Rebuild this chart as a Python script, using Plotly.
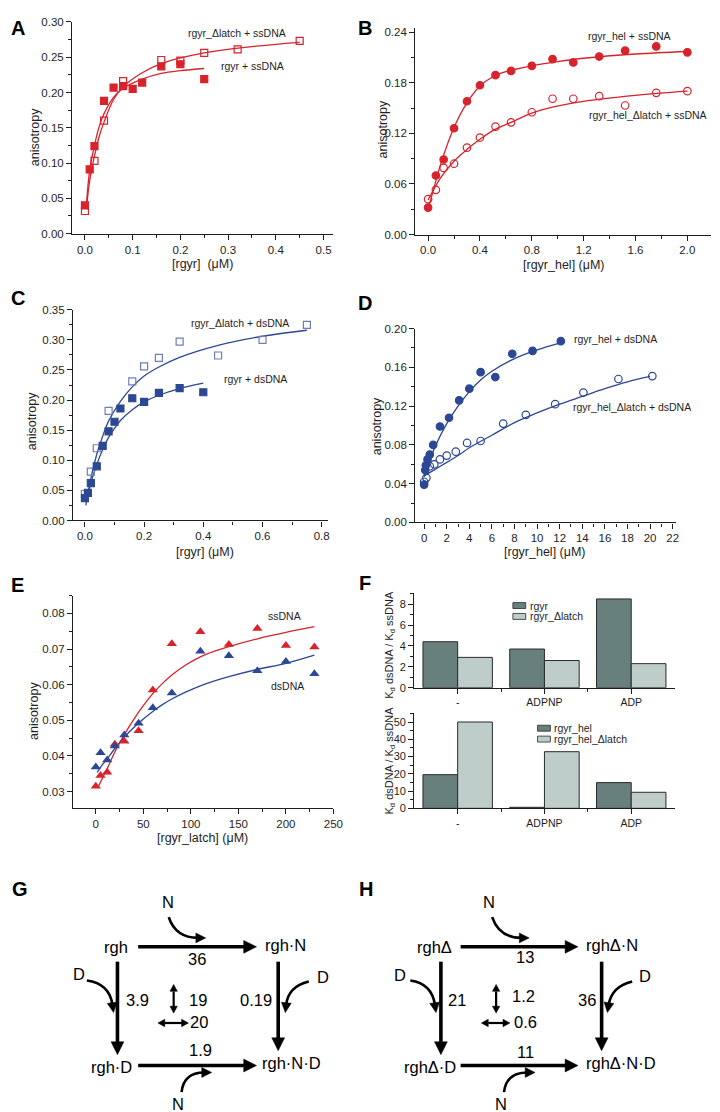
import math
import plotly.graph_objects as go

W, H = 720, 1112
FONT = 'Liberation Sans, Arial, sans-serif'
RED = '#d8222c'
BLUE = '#2c4794'
DARK = '#1e1e1e'
BAR_DARK = '#67807e'
BAR_LIGHT = '#becdca'

# ---------------- data ----------------
# Panel A (ssDNA, rgyr vs rgyr_dlatch)
a_rgyr_x = [0, 0.01, 0.02, 0.04, 0.06, 0.08, 0.10, 0.12, 0.16, 0.20, 0.25]
a_rgyr_y = [0.040, 0.091, 0.124, 0.188, 0.207, 0.209, 0.205, 0.214, 0.237, 0.240, 0.219]
a_dl_x = [0, 0.02, 0.04, 0.08, 0.16, 0.20, 0.25, 0.32, 0.45]
a_dl_y = [0.032, 0.103, 0.160, 0.216, 0.246, 0.245, 0.256, 0.261, 0.273]
a_fit_rgyr_x = [0.003, 0.01, 0.02, 0.03, 0.04, 0.06, 0.08, 0.12, 0.16, 0.20, 0.25]
a_fit_rgyr_y = [0.040, 0.090, 0.125, 0.152, 0.170, 0.193, 0.206, 0.219, 0.227, 0.231, 0.234]
a_fit_dl_x = [0.003, 0.01, 0.02, 0.03, 0.04, 0.06, 0.08, 0.12, 0.16, 0.25, 0.35, 0.45]
a_fit_dl_y = [0.035, 0.075, 0.110, 0.138, 0.158, 0.190, 0.208, 0.228, 0.241, 0.256, 0.265, 0.271]

# Panel B (ssDNA, rgyr_hel vs rgyr_hel_dlatch)
b_hel_x = [0, 0.06, 0.12, 0.20, 0.30, 0.40, 0.52, 0.64, 0.80, 0.96, 1.12, 1.32, 1.52, 1.76, 2.0]
b_hel_y = [0.032, 0.070, 0.089, 0.126, 0.158, 0.177, 0.189, 0.194, 0.200, 0.208, 0.204, 0.211, 0.218, 0.223, 0.216]
b_dl_x = [0, 0.06, 0.12, 0.20, 0.30, 0.40, 0.52, 0.64, 0.80, 0.96, 1.12, 1.32, 1.52, 1.76, 2.0]
b_dl_y = [0.042, 0.053, 0.079, 0.084, 0.103, 0.115, 0.128, 0.133, 0.145, 0.161, 0.161, 0.164, 0.153, 0.168, 0.170]
b_fit_hel_x = [0, 0.05, 0.1, 0.2, 0.3, 0.4, 0.5, 0.6, 0.8, 1.0, 1.2, 1.6, 2.0]
b_fit_hel_y = [0.030, 0.058, 0.085, 0.127, 0.156, 0.176, 0.187, 0.193, 0.200, 0.205, 0.209, 0.214, 0.217]
b_fit_dl_x = [0, 0.1, 0.2, 0.3, 0.4, 0.52, 0.64, 0.8, 0.96, 1.2, 1.6, 2.0]
b_fit_dl_y = [0.041, 0.068, 0.087, 0.101, 0.113, 0.125, 0.133, 0.144, 0.151, 0.158, 0.165, 0.170]

# Panel C (dsDNA, rgyr vs rgyr_dlatch)
c_dl_x = [0, 0.02, 0.04, 0.08, 0.16, 0.20, 0.25, 0.32, 0.45, 0.60, 0.75]
c_dl_y = [0.044, 0.081, 0.120, 0.182, 0.231, 0.256, 0.270, 0.297, 0.274, 0.300, 0.325]
c_rgyr_x = [0, 0.01, 0.02, 0.04, 0.06, 0.08, 0.10, 0.12, 0.16, 0.20, 0.25, 0.32, 0.40]
c_rgyr_y = [0.037, 0.046, 0.062, 0.090, 0.124, 0.148, 0.164, 0.186, 0.203, 0.197, 0.212, 0.220, 0.213]
c_fit_dl_x = [0.003, 0.02, 0.04, 0.06, 0.08, 0.12, 0.16, 0.20, 0.25, 0.32, 0.45, 0.60, 0.75]
c_fit_dl_y = [0.025, 0.070, 0.110, 0.140, 0.165, 0.198, 0.222, 0.240, 0.255, 0.271, 0.291, 0.306, 0.316]
c_fit_rgyr_x = [0.005, 0.02, 0.04, 0.06, 0.08, 0.10, 0.12, 0.16, 0.20, 0.25, 0.32, 0.40]
c_fit_rgyr_y = [0.030, 0.062, 0.093, 0.118, 0.138, 0.153, 0.166, 0.184, 0.197, 0.208, 0.219, 0.228]

# Panel D (dsDNA, rgyr_hel vs rgyr_hel_dlatch)
d_hel_x = [0, 0.1, 0.15, 0.3, 0.5, 0.8, 1.4, 2.2, 3.1, 4.0, 5.0, 6.3, 7.8, 9.6, 12.1]
d_hel_y = [0.039, 0.054, 0.059, 0.065, 0.070, 0.080, 0.099, 0.108, 0.126, 0.138, 0.155, 0.150, 0.174, 0.177, 0.187]
d_dl_x = [0, 0.2, 0.5, 0.9, 1.4, 2.0, 2.8, 3.8, 5.0, 7.0, 9.0, 11.6, 14.1, 17.2, 20.2]
d_dl_y = [0.042, 0.046, 0.058, 0.060, 0.065, 0.069, 0.073, 0.082, 0.084, 0.102, 0.111, 0.122, 0.134, 0.148, 0.151]
d_fit_hel_x = [0, 0.5, 1, 2, 3, 4, 5, 6, 8, 10, 12]
d_fit_hel_y = [0.047, 0.064, 0.079, 0.102, 0.120, 0.135, 0.147, 0.156, 0.169, 0.178, 0.185]
d_fit_dl_x = [0, 1, 2, 3, 4, 6, 8, 10, 12, 14, 16, 18, 20]
d_fit_dl_y = [0.048, 0.055, 0.062, 0.069, 0.077, 0.090, 0.103, 0.113, 0.122, 0.130, 0.138, 0.145, 0.1506]

# Panel E (rgyr_latch binding)
e_x = [0, 5, 12, 20, 30, 45, 60, 80, 110, 140, 170, 200, 230]
e_ss_y = [0.0315, 0.0345, 0.0354, 0.0433, 0.0441, 0.0471, 0.0585, 0.0715, 0.0749, 0.0713, 0.0758, 0.0710, 0.0706]
e_ds_y = [0.0369, 0.0409, 0.0389, 0.0428, 0.0459, 0.0492, 0.0535, 0.0577, 0.0694, 0.0681, 0.0639, 0.0665, 0.0631]
e_fit_ss_x = [3, 8, 12, 20, 30, 40, 50, 60, 70, 80, 95, 110, 125, 140, 170, 200, 230]
e_fit_ss_y = [0.0316, 0.0343, 0.0364, 0.0411, 0.0460, 0.0503, 0.0541, 0.0575, 0.0603, 0.0627, 0.0656, 0.0678, 0.0694, 0.0707, 0.0729, 0.0747, 0.0763]
e_fit_ds_x = [1.5, 6, 12, 20, 30, 40, 50, 60, 70, 80, 95, 110, 125, 140, 170, 200, 230]
e_fit_ds_y = [0.0354, 0.0372, 0.0392, 0.0421, 0.0453, 0.0480, 0.0504, 0.0525, 0.0544, 0.0560, 0.0580, 0.0597, 0.0611, 0.0623, 0.0643, 0.0660, 0.0683]

# Panel F (Kd ratios)
f_categories = ['-', 'ADPNP', 'ADP']
f_top_rgyr = [4.4, 3.7, 8.5]
f_top_dlatch = [2.9, 2.6, 2.3]
f_bot_hel = [19.5, 0.6, 14.9]
f_bot_hel_dlatch = [50.0, 32.8, 9.3]

# Panels G / H (thermodynamic cycles)
g_nodes = ['rgh', 'rgh·N', 'rgh·D', 'rgh·N·D']
g_consts = ['36', '3.9', '0.19', '1.9', '19', '20']
h_nodes = ['rghΔ', 'rghΔ·N', 'rghΔ·D', 'rghΔ·N·D']
h_consts = ['13', '21', '36', '11', '1.2', '0.6']

# ---------------- helpers ----------------
def px(x, y):
    return x / W, 1 - y / H

def xd(l, r):
    return [l / W, r / W]

def yd(b, t):
    return [1 - b / H, 1 - t / H]

def axis(domain, rng, dtick, minor_dtick, fmt, anchor, **kw):
    d = dict(domain=domain, range=rng, dtick=dtick, tick0=0, tickformat=fmt, anchor=anchor,
             showline=True, linecolor=DARK, linewidth=1.2, ticks='outside', ticklen=5,
             tickwidth=1.1, tickcolor=DARK, showgrid=False, zeroline=False,
             tickfont=dict(family=FONT, size=11.5, color=DARK),
             minor=dict(ticks='outside', ticklen=3, tickwidth=1, tickcolor=DARK, dtick=minor_dtick, tick0=0))
    d.update(kw)
    return d

fig = go.Figure()

def pts(x, y, ax, color, symbol, size=7, lw=1.2):
    fig.add_trace(go.Scatter(x=x, y=y, mode='markers', xaxis='x' + ax, yaxis='y' + ax, showlegend=False,
                             marker=dict(symbol=symbol, size=size, color=color, line=dict(color=color, width=lw))))

def fit(x, y, ax, color, smoothing=1.0):
    fig.add_trace(go.Scatter(x=x, y=y, mode='lines', xaxis='x' + ax, yaxis='y' + ax, showlegend=False,
                             line=dict(color=color, width=1.3, shape='spline', smoothing=smoothing)))

# A
fit(a_fit_dl_x, a_fit_dl_y, '', RED)
fit(a_fit_rgyr_x, a_fit_rgyr_y, '', RED)
pts(a_dl_x, a_dl_y, '', RED, 'square-open')
pts(a_rgyr_x, a_rgyr_y, '', RED, 'square')
# B
fit(b_fit_hel_x, b_fit_hel_y, '2', RED)
fit(b_fit_dl_x, b_fit_dl_y, '2', RED)
pts(b_dl_x, b_dl_y, '2', RED, 'circle-open', size=7.5)
pts(b_hel_x, b_hel_y, '2', RED, 'circle', size=7.5)
# C
fit(c_fit_dl_x, c_fit_dl_y, '3', BLUE)
fit(c_fit_rgyr_x, c_fit_rgyr_y, '3', BLUE)
pts(c_dl_x, c_dl_y, '3', '#6f7fb6', 'square-open')
pts(c_rgyr_x, c_rgyr_y, '3', BLUE, 'square')
# D
fit(d_fit_hel_x, d_fit_hel_y, '4', BLUE)
fit(d_fit_dl_x, d_fit_dl_y, '4', BLUE)
pts(d_dl_x, d_dl_y, '4', BLUE, 'circle-open', size=7.5)
pts(d_hel_x, d_hel_y, '4', BLUE, 'circle', size=7.5)
# E
fit(e_fit_ss_x, e_fit_ss_y, '5', RED)
fit(e_fit_ds_x, e_fit_ds_y, '5', BLUE)
pts(e_x, e_ss_y, '5', RED, 'triangle-up', size=9, lw=0)
pts(e_x, e_ds_y, '5', BLUE, 'triangle-up', size=9, lw=0)
# F bars
fidx = list(range(len(f_categories)))
bar_line = dict(color='#2a2a2a', width=1)
fig.add_trace(go.Bar(x=fidx, y=f_top_rgyr, xaxis='x6', yaxis='y6', marker=dict(color=BAR_DARK, line=bar_line), showlegend=False))
fig.add_trace(go.Bar(x=fidx, y=f_top_dlatch, xaxis='x6', yaxis='y6', marker=dict(color=BAR_LIGHT, line=bar_line), showlegend=False))
fig.add_trace(go.Bar(x=fidx, y=f_bot_hel, xaxis='x7', yaxis='y7', marker=dict(color=BAR_DARK, line=bar_line), showlegend=False))
fig.add_trace(go.Bar(x=fidx, y=f_bot_hel_dlatch, xaxis='x7', yaxis='y7', marker=dict(color=BAR_LIGHT, line=bar_line), showlegend=False))

cat_axis = dict(tickmode='array', tickvals=fidx, ticktext=f_categories,
                minor=dict(ticks='outside', ticklen=3, tickwidth=1, tickcolor=DARK, tickmode='array', tickvals=[0.5, 1.5]))

layout = dict(
    width=W, height=H, margin=dict(l=0, r=0, t=0, b=0), paper_bgcolor='white', plot_bgcolor='rgba(0,0,0,0)',
    barmode='group', bargap=0.2, bargroupgap=0, showlegend=False,
    font=dict(family=FONT, color=DARK),
    xaxis=axis(xd(65, 330), [-0.0269, 0.5207], 0.1, 0.05, '.1f', 'y'),
    yaxis=axis(yd(222, 8), [0, 0.30], 0.05, 0.025, '.2f', 'x'),
    xaxis2=axis(xd(413, 713), [-0.099, 2.183], 0.4, 0.2, '.1f', 'y2'),
    yaxis2=axis(yd(223, 14), [0, 0.245], 0.06, 0.03, '.2f', 'x2'),
    xaxis3=axis(xd(66, 325), [-0.04, 0.823], 0.2, 0.1, '.1f', 'y3'),
    yaxis3=axis(yd(512, 299), [0, 0.35], 0.05, 0.025, '.2f', 'x3'),
    xaxis4=axis(xd(413, 677), [-0.786, 22.26], 2, 1, 'd', 'y4'),
    yaxis4=axis(yd(514, 318), [0, 0.20], 0.04, 0.02, '.2f', 'x4'),
    xaxis5=axis(xd(66, 330), [-23.9, 250], 50, 25, 'd', 'y5'),
    yaxis5=axis(yd(803, 588), [0.0253, 0.085], 0.01, 0.005, '.2f', 'x5'),
    xaxis6=axis(xd(412, 676), [-0.5, 2.5], None, None, '', 'y6', **cat_axis),
    yaxis6=axis(yd(681, 585), [0, 9.1], 2, 1, 'd', 'x6'),
    xaxis7=axis(xd(412, 676), [-0.5, 2.5], None, None, '', 'y7', **cat_axis),
    yaxis7=axis(yd(803, 707), [0, 55], 10, 5, 'd', 'x7'),
)
for k in ('xaxis6', 'xaxis7'):
    layout[k].pop('dtick', None)
    layout[k].pop('tick0', None)
    layout[k]['tickfont'] = dict(family=FONT, size=10.5, color=DARK)
for k in ('yaxis6', 'yaxis7'):
    layout[k]['tickfont'] = dict(family=FONT, size=11, color=DARK)

annotations = []
shapes = []

def txt(s, x, y, size=11, bold=False, angle=0, xanchor='center', yanchor='middle', color=DARK):
    xx, yy = px(x, y)
    font = dict(family=FONT, size=size, color=color)
    if bold:
        font['weight'] = 'bold'
    annotations.append(dict(text=s, x=xx, y=yy, xref='paper', yref='paper',
                            showarrow=False, textangle=angle, xanchor=xanchor, yanchor=yanchor, font=font))

# panel letters
for letter, (x, y) in zip('ABCDEFGH', [(10, 14), (362, 14), (10, 287), (362, 292),
                                        (10, 577), (362, 575), (12, 885), (363, 885)]):
    txt(letter, x, y, size=20, bold=True, color='black')

# axis titles
TS = 12.5
txt('anisotropy', 27, 125, size=TS, angle=-90)
txt('[rgyr]  (μM)', 197, 253, size=TS)
txt('anisotropy', 380, 117, size=TS, angle=-90)
txt('[rgyr_hel] (μM)', 564, 254, size=TS)
txt('anisotropy', 24, 412, size=TS, angle=-90)
txt('[rgyr] (μM)', 200, 544, size=TS)
txt('anisotropy', 374, 417, size=TS, angle=-90)
txt('[rgyr_hel] (μM)', 545, 544, size=TS)
txt('anisotropy', 27, 705, size=TS, angle=-90)
txt('[rgyr_latch] (μM)', 197, 833, size=TS)
txt('K<sub>d</sub> dsDNA / K<sub>d</sub> ssDNA', 387, 638, size=11, angle=-90)
txt('K<sub>d</sub> dsDNA / K<sub>d</sub> ssDNA', 387, 755, size=11, angle=-90)

# curve labels
LS = 10.5
txt('rgyr_Δlatch + ssDNA', 232, 19, size=LS)
txt('rgyr + ssDNA', 248, 53, size=LS)
txt('rgyr_hel + ssDNA', 630, 22, size=LS)
txt('rgyr_hel_Δlatch + ssDNA', 649, 102, size=LS)
txt('rgyr_Δlatch + dsDNA', 235, 312, size=LS)
txt('rgyr + dsDNA', 251, 369, size=LS)
txt('rgyr_hel + dsDNA', 616, 329, size=LS)
txt('rgyr_hel_Δlatch + dsDNA', 633, 397, size=LS)
txt('ssDNA', 280, 609, size=LS)
txt('dsDNA', 283, 679, size=LS)

# F legends (boxes + text)
def legend_item(label, color, x0, y):
    a = px(x0, y - 3)
    b = px(x0 + 13, y + 3)
    shapes.append(dict(type='rect', xref='paper', yref='paper', x0=a[0], y0=b[1], x1=b[0], y1=a[1],
                       fillcolor=color, line=dict(color='#2a2a2a', width=0.8)))
    txt(label, x0 + 15, y, size=10.5, xanchor='left')

legend_item('rgyr', BAR_DARK, 512, 598)
legend_item('rgyr_Δlatch', BAR_LIGHT, 512, 609)
legend_item('rgyr_hel', BAR_DARK, 537, 722)
legend_item('rgyr_hel_Δlatch', BAR_LIGHT, 537, 733)

# ---------------- diagrams ----------------
DS = 16.5

def tri(tip, u, hl, hw):
    nx, ny = -u[1], u[0]
    base = (tip[0] - u[0] * hl, tip[1] - u[1] * hl)
    b1 = (base[0] + nx * hw / 2, base[1] + ny * hw / 2)
    b2 = (base[0] - nx * hw / 2, base[1] - ny * hw / 2)
    p = [px(*tip), px(*b1), px(*b2)]
    shapes.append(dict(type='path', xref='paper', yref='paper',
                       path='M %f,%f L %f,%f L %f,%f Z' % (p[0][0], p[0][1], p[1][0], p[1][1], p[2][0], p[2][1]),
                       fillcolor='black', line=dict(color='black', width=0.5)))
    return base

def arrow(tail, head, width=3.6, hl=13, hw=13, both=False):
    dx, dy = head[0] - tail[0], head[1] - tail[1]
    L = math.hypot(dx, dy)
    u = (dx / L, dy / L)
    end = tri(head, u, hl, hw)
    start = tail
    if both:
        start = tri(tail, (-u[0], -u[1]), hl, hw)
    a, b = px(*start), px(end[0] + u[0] * 1.5, end[1] + u[1] * 1.5)
    shapes.append(dict(type='line', xref='paper', yref='paper', x0=a[0], y0=a[1], x1=b[0], y1=b[1],
                       line=dict(color='black', width=width)))

def curved(p0, c, p1, width=2.6, head=10):
    x0, y0 = px(*p0)
    cx, cy = px(*c)
    x1, y1 = px(*p1)
    shapes.append(dict(type='path', xref='paper', yref='paper', path='M %f,%f Q %f,%f %f,%f' % (x0, y0, cx, cy, x1, y1),
                       line=dict(color='black', width=width)))
    dx, dy = p1[0] - c[0], p1[1] - c[1]
    L = math.hypot(dx, dy)
    u = (dx / L, dy / L)
    tip = (p1[0] + u[0] * head * 0.75, p1[1] + u[1] * head * 0.75)
    tri(tip, u, head, head)

def cycle(nodes, consts, node_pos, const_pos, straight, doubles, curves, nd_pos):
    for s, (x, y) in zip(nodes, node_pos):
        txt(s, x, y, size=DS, color='black')
    for s, (x, y) in zip(consts, const_pos):
        txt(s, x, y, size=DS, color='black')
    for s, (x, y) in nd_pos:
        txt(s, x, y, size=DS, color='black')
    for t, h in straight:
        arrow(t, h)
    for t, h in doubles:
        arrow(t, h, width=2.2, hl=7, hw=7.5, both=True)
    for p0, c, p1 in curves:
        curved(p0, c, p1)

# G
cycle(g_nodes, g_consts,
      [(110, 943), (281, 941), (105, 1064), (287, 1060)],
      [(192, 955), (131, 997), (252, 997), (195, 1047), (193, 997), (194, 1019)],
      [((132, 943), (252, 943)), ((111, 958), (111, 1052)), ((274, 958), (274, 1048)), ((132, 1063), (252, 1063))],
      [((168, 981), (168, 1010)), ((152, 1020), (183, 1020))],
      [((163, 913), (170, 934), (193, 934)), ((80, 977), (103, 980), (106, 1002)),
       ((305, 978), (284, 983), (282, 1002)), ((176, 1090), (178, 1070), (199, 1070))],
      [('N', (162, 898)), ('D', (72, 970)), ('D', (319, 973)), ('N', (172, 1102))])
# H
cycle(h_nodes, h_consts,
      [(432, 943), (612, 941), (428, 1064), (622, 1060)],
      [(524, 953), (455, 997), (587, 997), (525, 1049), (523, 993), (525, 1019)],
      [((459, 943), (578, 943)), ((439, 958), (439, 1052)), ((602, 958), (602, 1048)), ((459, 1063), (578, 1063))],
      [((495, 981), (495, 1010)), ((480, 1020), (509, 1020))],
      [((491, 913), (498, 934), (521, 934)), ((408, 977), (430, 980), (433, 1002)),
       ((633, 978), (612, 983), (609, 1002)), ((503, 1090), (505, 1070), (527, 1070))],
      [('N', (488, 898)), ('D', (398, 971)), ('D', (646, 972)), ('N', (500, 1102))])

layout['annotations'] = annotations
layout['shapes'] = shapes
fig.update_layout(**layout)
fig.write_html('out.html')
